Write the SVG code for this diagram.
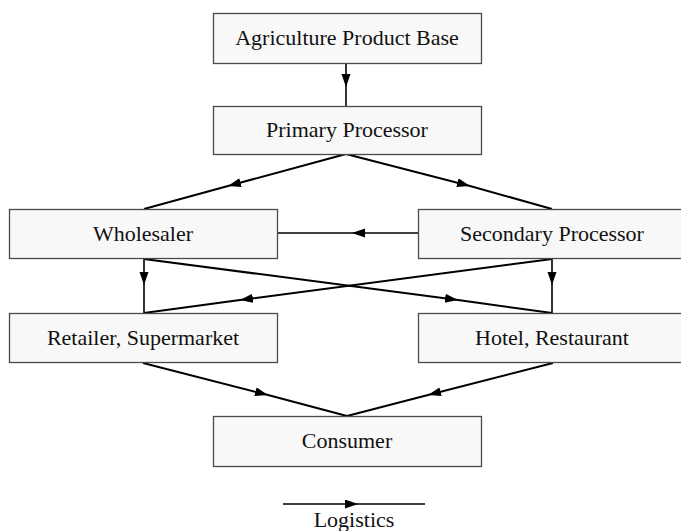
<svg xmlns="http://www.w3.org/2000/svg" width="681" height="531" viewBox="0 0 681 531">
<style>
.box{fill:#f8f8f8;stroke:#4a4a4a;stroke-width:1.3}
.lbl{font-family:"Liberation Serif","Times New Roman",serif;font-size:22px;fill:#111;text-anchor:middle}
.ln{fill:none;stroke:#000;stroke-width:2;marker-mid:url(#ah)}
.lv{fill:none;stroke:#000;stroke-width:1.6;marker-mid:url(#ah)}
</style>
<defs>
<marker id="ah" markerUnits="userSpaceOnUse" markerWidth="14" markerHeight="10" refX="13" refY="4.5" orient="auto">
<path d="M0,0 L13,4.5 L0,9 z" fill="#000"/>
</marker>
</defs>
<rect width="681" height="531" fill="#fff"/>
<g id="connectors">
<path class="lv" d="M346,63 L346,87 L346,106"/>
<path class="ln" d="M346,154 L228,186 L144,209"/>
<path class="ln" d="M346,154 L470,186 L552,209"/>
<path class="lv" d="M418,233 L352,233 L278,233"/>
<path class="lv" d="M144,259 L144,285 L144,313"/>
<path class="lv" d="M552,259 L552,285 L552,313"/>
<path class="ln" d="M144,259 L458,300 L552,313"/>
<path class="ln" d="M552,259 L240,300 L144,313"/>
<path class="ln" d="M143,363 L268,395 L347,416"/>
<path class="ln" d="M553,363 L428,395 L347,416"/>
</g>
<g id="n-agri"><rect class="box" x="213.5" y="13.5" width="268" height="50"/><text class="lbl" x="347" y="45">Agriculture Product Base</text></g>
<g id="n-primary"><rect class="box" x="213.5" y="106.5" width="268" height="48"/><text class="lbl" x="347" y="137">Primary Processor</text></g>
<g id="n-wholesaler"><rect class="box" x="9.5" y="209.5" width="268" height="49"/><text class="lbl" x="143" y="241">Wholesaler</text></g>
<g id="n-secondary"><rect class="box" x="418.5" y="209.5" width="268" height="49"/><text class="lbl" x="552" y="241">Secondary Processor</text></g>
<g id="n-retailer"><rect class="box" x="9.5" y="313.5" width="268" height="49"/><text class="lbl" x="143" y="345">Retailer, Supermarket</text></g>
<g id="n-hotel"><rect class="box" x="418.5" y="313.5" width="268" height="49"/><text class="lbl" x="552" y="345">Hotel, Restaurant</text></g>
<g id="n-consumer"><rect class="box" x="213.5" y="416.5" width="268" height="50"/><text class="lbl" x="347" y="448">Consumer</text></g>
<g id="legend">
<path class="lv" d="M283,504 L358,504 L425,504"/>
<text class="lbl" x="354" y="527">Logistics</text>
</g>
</svg>
